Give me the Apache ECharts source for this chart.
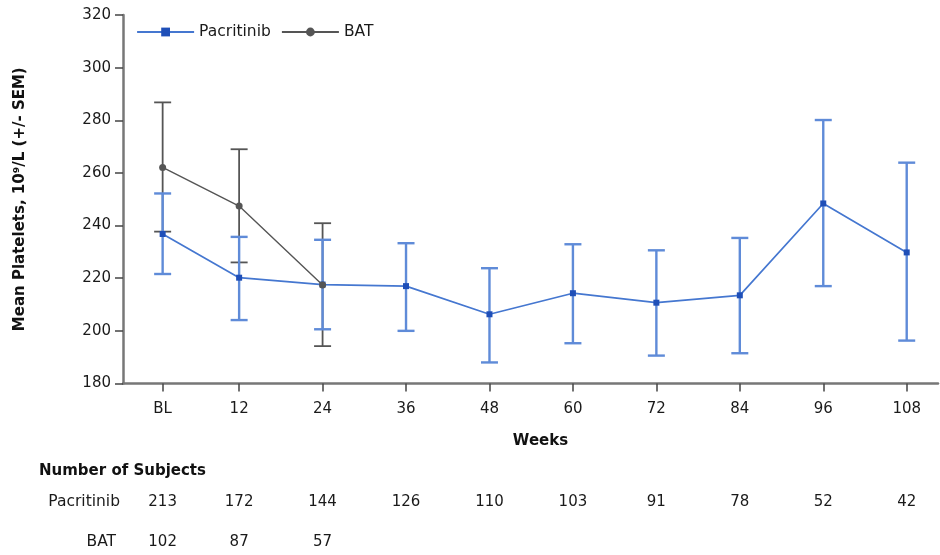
<!DOCTYPE html>
<html>
<head>
<meta charset="utf-8">
<script src="https://cdn.jsdelivr.net/npm/echarts@6/dist/echarts.min.js"></script>
<style>
  html, body { margin: 0; padding: 0; background: #fff; }
  #chart { width: 940px; height: 555px; }
</style>
</head>
<body>
<div id="chart"></div>
<script>
// Visit weeks (baseline plotted just after week 0)
const weeks = [1, 12, 24, 36, 48, 60, 72, 84, 96, 108];
const weekLabels = ['BL', '12', '24', '36', '48', '60', '72', '84', '96', '108'];

// Pacritinib: mean platelets and SEM bounds
const pacMean  = [236.8, 220.2, 217.6, 217.0, 206.3, 214.3, 210.7, 213.5, 248.4, 229.8];
const pacLower = [221.6, 204.1, 200.6, 200.0, 188.0, 195.3, 190.6, 191.5, 217.0, 196.3];
const pacUpper = [252.2, 235.7, 234.6, 233.3, 223.8, 232.9, 230.6, 235.3, 280.1, 263.9];

// BAT: mean platelets and SEM bounds (first three visits)
const batMean  = [262.1, 247.4, 217.4];
const batLower = [237.7, 226.0, 194.2];
const batUpper = [286.8, 269.0, 240.9];

// Number of subjects at each visit
const pacN = ['213', '172', '144', '126', '110', '103', '91', '78', '52', '42'];
const batN = ['102', '87', '57'];

const FONT = '"DejaVu Sans", "Liberation Sans", Arial, sans-serif';
const TEXT = '#1a1a1a';
const PAC_COLOR = '#4577d0';
const PAC_BAR = '#5f8bd8';
const BAT_COLOR = '#555555';

function pairs(xs, ys) { return ys.map((v, i) => [xs[i], v]); }
function bars(xs, lo, hi) { return lo.map((v, i) => [xs[i], v, hi[i]]); }

function errorBar(color, width) {
  return function (params, api) {
    const x = api.value(0);
    const lo = api.coord([x, api.value(1)]);
    const hi = api.coord([x, api.value(2)]);
    const half = 8.5;
    const style = { stroke: color, lineWidth: width };
    return {
      type: 'group',
      children: [
        { type: 'line', shape: { x1: lo[0], y1: lo[1], x2: hi[0], y2: hi[1] }, style },
        { type: 'line', shape: { x1: hi[0] - half, y1: hi[1], x2: hi[0] + half, y2: hi[1] }, style },
        { type: 'line', shape: { x1: lo[0] - half, y1: lo[1], x2: lo[0] + half, y2: lo[1] }, style }
      ]
    };
  };
}

const chart = echarts.init(document.getElementById('chart'), null, { renderer: 'canvas' });

const option = {
  animation: false,
  backgroundColor: '#ffffff',
  textStyle: { fontFamily: FONT },
  grid: { left: 123, right: 2, top: 15, bottom: 171.5 },
  legend: {
    left: 131, top: 19,
    itemWidth: 57, itemHeight: 11, itemGap: 10,
    lineStyle: { width: 2.2 },
    textStyle: { fontFamily: FONT, fontSize: 15.5, color: TEXT },
    data: ['Pacritinib', 'BAT']
  },
  xAxis: {
    type: 'value',
    min: -4.7, max: 112.5,
    name: 'Weeks',
    nameLocation: 'middle',
    nameGap: 50,
    nameTextStyle: { fontFamily: FONT, fontSize: 15, fontWeight: 'bold', color: '#111', padding: [0, 0, 0, 20] },
    splitLine: { show: false },
    axisLine: { onZero: false, lineStyle: { color: '#777', width: 2.5 } },
    axisTick: { show: true, customValues: weeks, length: 8, inside: false, lineStyle: { color: '#444', width: 1.5 } },
    axisLabel: {
      customValues: weeks,
      margin: 18,
      fontFamily: FONT, fontSize: 15, color: TEXT,
      formatter: function (v) { const i = weeks.indexOf(v); return i >= 0 ? weekLabels[i] : ''; }
    }
  },
  yAxis: {
    type: 'value',
    min: 180, max: 320, interval: 20,
    name: 'Mean Platelets, 10\u2079/L (+/- SEM)',
    nameLocation: 'middle',
    nameGap: 95,
    nameRotate: 90,
    nameTextStyle: { fontFamily: FONT, fontSize: 15, fontWeight: 'bold', color: '#111' },
    splitLine: { show: false },
    axisLine: { show: true, onZero: false, lineStyle: { color: '#777', width: 2.5 } },
    axisTick: { show: true, length: 8, lineStyle: { color: '#444', width: 1.5 } },
    axisLabel: { margin: 12, fontFamily: FONT, fontSize: 15, color: TEXT }
  },
  series: [
    {
      type: 'custom',
      name: 'BAT SEM',
      renderItem: errorBar(BAT_COLOR, 1.8),
      data: bars(weeks, batLower, batUpper),
      encode: { x: 0, y: [1, 2] },
      itemStyle: { color: BAT_COLOR },
      z: 2, silent: true
    },
    {
      type: 'custom',
      name: 'Pacritinib SEM',
      renderItem: errorBar(PAC_BAR, 2.4),
      data: bars(weeks, pacLower, pacUpper),
      encode: { x: 0, y: [1, 2] },
      itemStyle: { color: PAC_BAR },
      z: 3, silent: true
    },
    {
      type: 'line',
      name: 'Pacritinib',
      data: pairs(weeks, pacMean),
      symbol: 'rect', symbolSize: 6,
      lineStyle: { color: PAC_COLOR, width: 1.7 },
      itemStyle: { color: '#1f4fb8' },
      z: 4
    },
    {
      type: 'line',
      name: 'BAT',
      data: pairs(weeks, batMean),
      symbol: 'circle', symbolSize: 7,
      lineStyle: { color: BAT_COLOR, width: 1.4 },
      itemStyle: { color: BAT_COLOR },
      z: 5
    }
  ]
};

chart.setOption(option);

// Number-of-subjects table, aligned with the week ticks
const tableText = [];
tableText.push({
  type: 'text', x: 39, y: 471,
  style: { text: 'Number of Subjects', font: 'bold 15px ' + FONT, fill: '#111', textVerticalAlign: 'middle' }
});
tableText.push({
  type: 'text', x: 120, y: 502,
  style: { text: 'Pacritinib', font: '15.5px ' + FONT, fill: TEXT, textAlign: 'right', textVerticalAlign: 'middle' }
});
tableText.push({
  type: 'text', x: 116, y: 542,
  style: { text: 'BAT', font: '15.5px ' + FONT, fill: TEXT, textAlign: 'right', textVerticalAlign: 'middle' }
});
function addRow(counts, y) {
  counts.forEach(function (n, i) {
    const px = chart.convertToPixel({ xAxisIndex: 0 }, weeks[i]);
    tableText.push({
      type: 'text', x: px, y: y,
      style: { text: n, font: '15px ' + FONT, fill: TEXT, textAlign: 'center', textVerticalAlign: 'middle' }
    });
  });
}
addRow(pacN, 502);
addRow(batN, 542);
chart.setOption({ graphic: tableText });
</script>
</body>
</html>
